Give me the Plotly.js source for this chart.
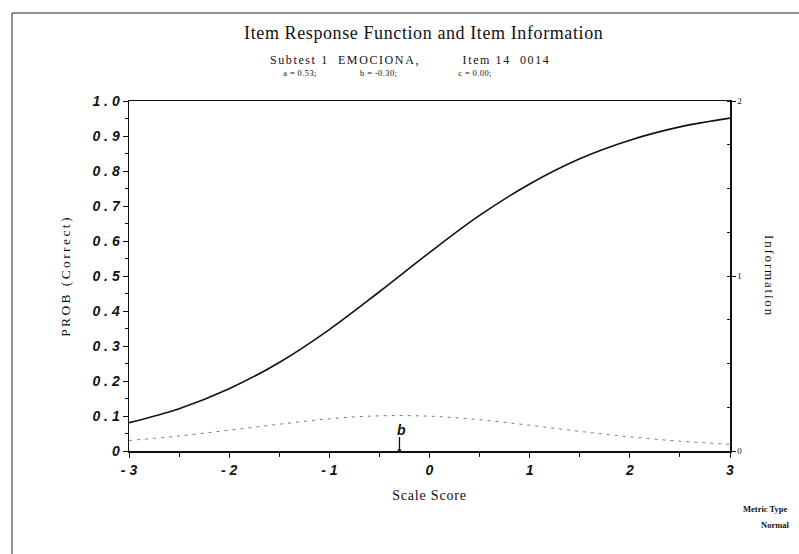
<!DOCTYPE html>
<html>
<head>
<meta charset="utf-8">
<script src="https://cdn.plot.ly/plotly-3.0.1.min.js"></script>
<style>
  html, body { margin: 0; padding: 0; background: #fff; }
  #chart { width: 799px; height: 554px; }
</style>
</head>
<body>
<div id="chart"></div>
<script>
// Item 14 (EMOCIONA): item response function and information
const theta = [-3, -2.5, -2, -1.5, -1, -0.5, 0, 0.5, 1, 1.5, 2, 2.5, 3];
const probCorrect = [0.081, 0.121, 0.178, 0.253, 0.347, 0.455, 0.567, 0.673, 0.763, 0.835, 0.888, 0.926, 0.951];
const information = [0.060, 0.086, 0.119, 0.153, 0.184, 0.201, 0.199, 0.179, 0.147, 0.112, 0.081, 0.056, 0.038];
const paramB = -0.30;
const bMarkHeight = 0.04;

const yTickVals = [0, 0.1, 0.2, 0.3, 0.4, 0.5, 0.6, 0.7, 0.8, 0.9, 1.0];
const yTickText = ['0', '0 . 1', '0 . 2', '0 . 3', '0 . 4', '0 . 5', '0 . 6', '0 . 7', '0 . 8', '0 . 9', '1 . 0'];
const xTickVals = [-3, -2, -1, 0, 1, 2, 3];
const xTickText = ['- 3', '- 2', '- 1', '0', '1', '2', '3'];
const y2TickVals = [0, 1, 2];
const y2TickText = ['0', '1', '2'];

// plot area in pixels
const W = 799, H = 554;
const L = 129, R = 730, T = 101, B = 451;
const px = x => (x - L) / (R - L);
const py = y => (B - y) / (B - T);

const serif = 'Liberation Serif, Times New Roman, serif';
const sans = 'Liberation Sans, Arial, sans-serif';
const tickFont = { family: sans, size: 14, color: '#111', weight: 'bold', style: 'italic' };

const traces = [
  {
    x: theta, y: information, yaxis: 'y2', type: 'scatter', mode: 'lines',
    line: { color: '#7a7a7a', width: 1, dash: '3px,5px', shape: 'spline' },
    hoverinfo: 'skip'
  },
  {
    x: theta, y: probCorrect, type: 'scatter', mode: 'lines',
    line: { color: '#111', width: 1.6, shape: 'spline' },
    hoverinfo: 'skip'
  },
  {
    x: [paramB, paramB], y: [0, bMarkHeight], type: 'scatter', mode: 'lines',
    line: { color: '#111', width: 1.3 }, hoverinfo: 'skip'
  },
  {
    x: [paramB], y: [0], type: 'scatter', mode: 'markers',
    marker: { color: '#111', size: 4, symbol: 'circle' }, hoverinfo: 'skip', cliponaxis: false
  }
];

function note(text, x, y, size, spacing, bold) {
  return {
    text: text, xref: 'paper', yref: 'paper', x: px(x), y: py(y),
    showarrow: false, xanchor: 'center', yanchor: 'middle',
    font: { family: serif, size: size, color: '#111', weight: bold ? 'bold' : 'normal' },
    name: 'ls' + spacing
  };
}

const annotations = [
  note('Item Response Function and Item Information', 423, 33, 18, 0.6),
  note('Subtest 1  EMOCIONA,', 345, 60, 12, 1.6),
  note('Item 14  0014', 506, 60, 12, 1.6),
  note('a = 0.53;', 300, 73, 8.5, 0.4),
  note('b = -0.30;', 378, 73, 8.5, 0.4),
  note('c = 0.00;', 475, 73, 8.5, 0.4),
  note('Metric Type', 765, 509, 8.5, 0, true),
  note('Normal', 775, 525, 8.5, 0, true),
  {
    text: 'b', xref: 'x', yref: 'y', x: paramB, y: bMarkHeight, yanchor: 'bottom', xanchor: 'center',
    showarrow: false, yshift: -3, xshift: 2,
    font: { family: sans, size: 14, color: '#111', weight: 'bold', style: 'italic' }
  }
];

const shapes = [
  // page frame (left and top edges)
  { type: 'line', xref: 'paper', yref: 'paper', x0: px(12), x1: px(12), y0: py(13), y1: py(H + 2), line: { color: '#222', width: 1 } },
  { type: 'line', xref: 'paper', yref: 'paper', x0: px(12), x1: px(W + 2), y0: py(13), y1: py(13), line: { color: '#222', width: 1 } }
];

const layout = {
  width: W, height: H,
  margin: { l: L, r: W - R, t: T, b: H - B, pad: 0 },
  paper_bgcolor: '#fff', plot_bgcolor: '#fff',
  showlegend: false,
  xaxis: {
    range: [-3, 3], tickvals: xTickVals, ticktext: xTickText,
    showgrid: false, zeroline: false, showline: true, linecolor: '#111', linewidth: 1.5,
    mirror: true, ticks: 'outside', ticklen: 5, tickwidth: 1, tickcolor: '#111',
    minor: { dtick: 0.5, ticks: 'outside', ticklen: 4, tickcolor: '#111', showgrid: false },
    tickfont: tickFont, ticklabelstandoff: 1,
    title: { text: 'Scale Score', font: { family: serif, size: 14, color: '#111' }, standoff: 13 }
  },
  yaxis: {
    range: [0, 1], tickvals: yTickVals, ticktext: yTickText,
    showgrid: false, zeroline: false, showline: true, linecolor: '#111', linewidth: 1.5,
    ticks: 'outside', ticklen: 5, tickwidth: 1, tickcolor: '#111',
    minor: { dtick: 0.05, ticks: 'outside', ticklen: 3, tickcolor: '#111', showgrid: false },
    tickfont: tickFont,
    title: { text: 'PROB (Correct)', font: { family: serif, size: 13.5, color: '#111' }, standoff: 18 }
  },
  yaxis2: {
    overlaying: 'y', side: 'right', range: [0, 2], tickvals: y2TickVals, ticktext: y2TickText,
    showgrid: false, zeroline: false, showline: true, linecolor: '#111', linewidth: 1.5,
    ticks: 'outside', ticklen: 4, tickwidth: 1, tickcolor: '#111',
    minor: { dtick: 0.25, ticks: 'inside', ticklen: 3, tickcolor: '#111', showgrid: false },
    tickfont: { family: serif, size: 9, color: '#111' },
    title: { text: 'Information', font: { family: serif, size: 13, color: '#111' }, standoff: 14 }
  },
  annotations: annotations,
  shapes: shapes
};

Plotly.newPlot('chart', traces, layout, { staticPlot: true, displayModeBar: false }).then(function (gd) {
  // typewriter-style letter spacing on the text blocks
  const annTexts = gd.querySelectorAll('.annotation');
  gd.layout.annotations.forEach(function (a, i) {
    const m = /^ls([\d.]+)$/.exec(a.name || '');
    if (m && annTexts[i]) {
      annTexts[i].querySelectorAll('text').forEach(function (t) {
        t.style.letterSpacing = m[1] + 'px';
      });
    }
  });
  const spaced = { '.g-xtitle text': '0.8px', '.g-ytitle text': '2.4px', '.g-y2title text': '1.8px' };
  Object.keys(spaced).forEach(function (sel) {
    const t = gd.querySelector(sel);
    if (t) t.style.letterSpacing = spaced[sel];
  });
  // right-hand axis title reads top to bottom
  const t2 = gd.querySelector('.g-y2title text');
  if (t2) {
    const tr = t2.getAttribute('transform') || '';
    t2.setAttribute('transform', tr.replace(/rotate\(-?90([^)]*)\)/, 'rotate(90$1)'));
  }
});
</script>
</body>
</html>
